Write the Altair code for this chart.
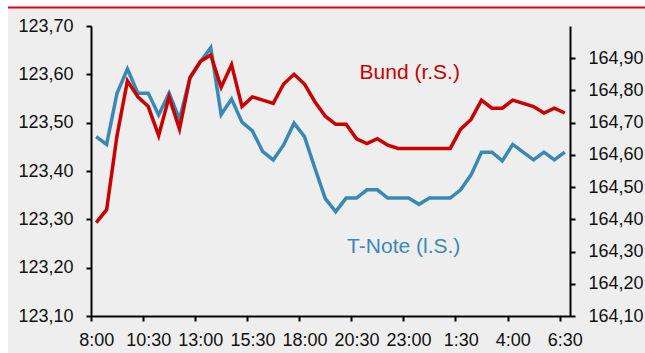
import altair as alt
import pandas as pd

# Half-hourly time stamps (8:00 through 6:30 the next morning)
times = [
    "8:00", "8:30", "9:00", "9:30", "10:00", "10:30", "11:00", "11:30",
    "12:00", "12:30", "13:00", "13:30", "14:00", "14:30", "15:00", "15:30",
    "16:00", "16:30", "17:00", "17:30", "18:00", "18:30", "19:00", "19:30",
    "20:00", "20:30", "21:00", "21:30", "22:00", "22:30", "23:00", "23:30",
    "0:00", "0:30", "1:00", "1:30", "2:00", "2:30", "3:00", "3:30",
    "4:00", "4:30", "5:00", "5:30", "6:00", "6:30",
]

# T-Note future (left axis)
tnote = [
    123.471, 123.455, 123.561, 123.611, 123.561, 123.561, 123.516, 123.561,
    123.507, 123.592, 123.626, 123.655, 123.517, 123.549, 123.501, 123.483,
    123.440, 123.423, 123.454, 123.499, 123.471, 123.406, 123.343, 123.316,
    123.344, 123.344, 123.361, 123.361, 123.344, 123.344, 123.344, 123.331,
    123.344, 123.344, 123.344, 123.361, 123.392, 123.439, 123.439, 123.421,
    123.455, 123.439, 123.423, 123.439, 123.423, 123.439,
]

# Bund future (right axis)
bund = [
    164.390, 164.430, 164.660, 164.830, 164.780, 164.750, 164.660, 164.780,
    164.680, 164.840, 164.890, 164.910, 164.810, 164.880, 164.750, 164.780,
    164.770, 164.760, 164.820, 164.850, 164.820, 164.765, 164.720, 164.695,
    164.695, 164.650, 164.635, 164.650, 164.630, 164.620, 164.620, 164.620,
    164.620, 164.620, 164.620, 164.680, 164.710, 164.770, 164.745, 164.745,
    164.770, 164.760, 164.750, 164.730, 164.745, 164.730,
]

left_ticks = [123.10, 123.20, 123.30, 123.40, 123.50, 123.60, 123.70]
right_ticks = [164.10, 164.20, 164.30, 164.40, 164.50, 164.60, 164.70, 164.80, 164.90]
x_ticks = times[::5]

BLUE = "#3a89b4"
RED = "#c80000"
FONT = "Liberation Sans"

W, H = 479, 290
STEP = W / len(times)

df = pd.DataFrame({"time": times, "tnote": tnote, "bund": bund})
tnote_lbl = pd.DataFrame({"time": ["20:00"], "v": [123.243], "label": ["T-Note (l.S.)"]})
bund_lbl = pd.DataFrame({"time": ["20:30"], "v": [164.855], "label": ["Bund (r.S.)"]})

x_scale = alt.Scale(domain=times, type="point", padding=0.5)
comma_fmt = "replace(format(datum.value, '.2f'), '.', ',')"

x_axis = alt.Axis(
    values=x_ticks, title=None, grid=False, zindex=1, labelOverlap=False,
    tickOffset=-STEP / 2, labelOffset=STEP / 2,
    labelAngle=0, labelPadding=10,
)
left_axis = alt.Axis(
    values=left_ticks, title=None, grid=False, orient="left", zindex=1,
    labelOverlap=False, labelExpr=comma_fmt, labelPadding=13,
)
right_axis = alt.Axis(
    values=right_ticks, title=None, grid=False, orient="right", zindex=1,
    labelOverlap=False, labelExpr=comma_fmt, labelPadding=13,
)
left_scale = alt.Scale(domain=[123.10, 123.70], nice=False, zero=False)
right_scale = alt.Scale(domain=[164.10, 165.00], nice=False, zero=False)

base = alt.Chart(df)

tnote_line = base.mark_line(color=BLUE, strokeWidth=3.5, strokeJoin="miter").encode(
    x=alt.X("time:N", scale=x_scale, sort=None, axis=x_axis),
    y=alt.Y("tnote:Q", scale=left_scale, axis=left_axis),
)
tnote_text = alt.Chart(tnote_lbl).mark_text(
    color=BLUE, font=FONT, fontSize=21, align="left", baseline="middle", dx=1
).encode(
    x=alt.X("time:N", scale=x_scale, sort=None, axis=x_axis),
    y=alt.Y("v:Q", scale=left_scale, axis=left_axis),
    text="label:N",
)

bund_line = base.mark_line(color=RED, strokeWidth=3.5, strokeJoin="miter").encode(
    x=alt.X("time:N", scale=x_scale, sort=None, axis=x_axis),
    y=alt.Y("bund:Q", scale=right_scale, axis=right_axis),
)
bund_text = alt.Chart(bund_lbl).mark_text(
    color=RED, font=FONT, fontSize=21, align="left", baseline="middle", dx=3
).encode(
    x=alt.X("time:N", scale=x_scale, sort=None, axis=x_axis),
    y=alt.Y("v:Q", scale=right_scale, axis=right_axis),
    text="label:N",
)

# Page frame: white margins on the left and top, red rule over the grey panel
one = pd.DataFrame({"k": [0]})
left_strip = alt.Chart(one).mark_rect(color="white").encode(
    x=alt.value(-91), x2=alt.value(-83), y=alt.value(-26), y2=alt.value(H + 37)
)
top_strip = alt.Chart(one).mark_rect(color="white").encode(
    x=alt.value(-91), x2=alt.value(W + 75), y=alt.value(-26), y2=alt.value(-19)
)
top_rule = alt.Chart(one).mark_rule(color="#e2001a", strokeWidth=2).encode(
    x=alt.value(-83), x2=alt.value(W + 75), y=alt.value(-18.5)
)

chart = alt.layer(
    left_strip,
    top_strip,
    top_rule,
    alt.layer(tnote_line, tnote_text),
    alt.layer(bund_line, bund_text),
).resolve_scale(y="independent").properties(
    width=W,
    height=H,
    padding={"left": 91, "top": 26, "right": 75, "bottom": 37},
    autosize=alt.AutoSizeParams(type="none"),
    background="#eeeeee",
).configure_view(
    stroke=None
).configure_axis(
    domainColor="black", domainWidth=2, tickColor="black", tickWidth=2, tickSize=5,
    labelFont=FONT, labelFontSize=18, labelColor="#111111",
)

chart.save("out.html", embed_options={"renderer": "svg", "actions": False})
